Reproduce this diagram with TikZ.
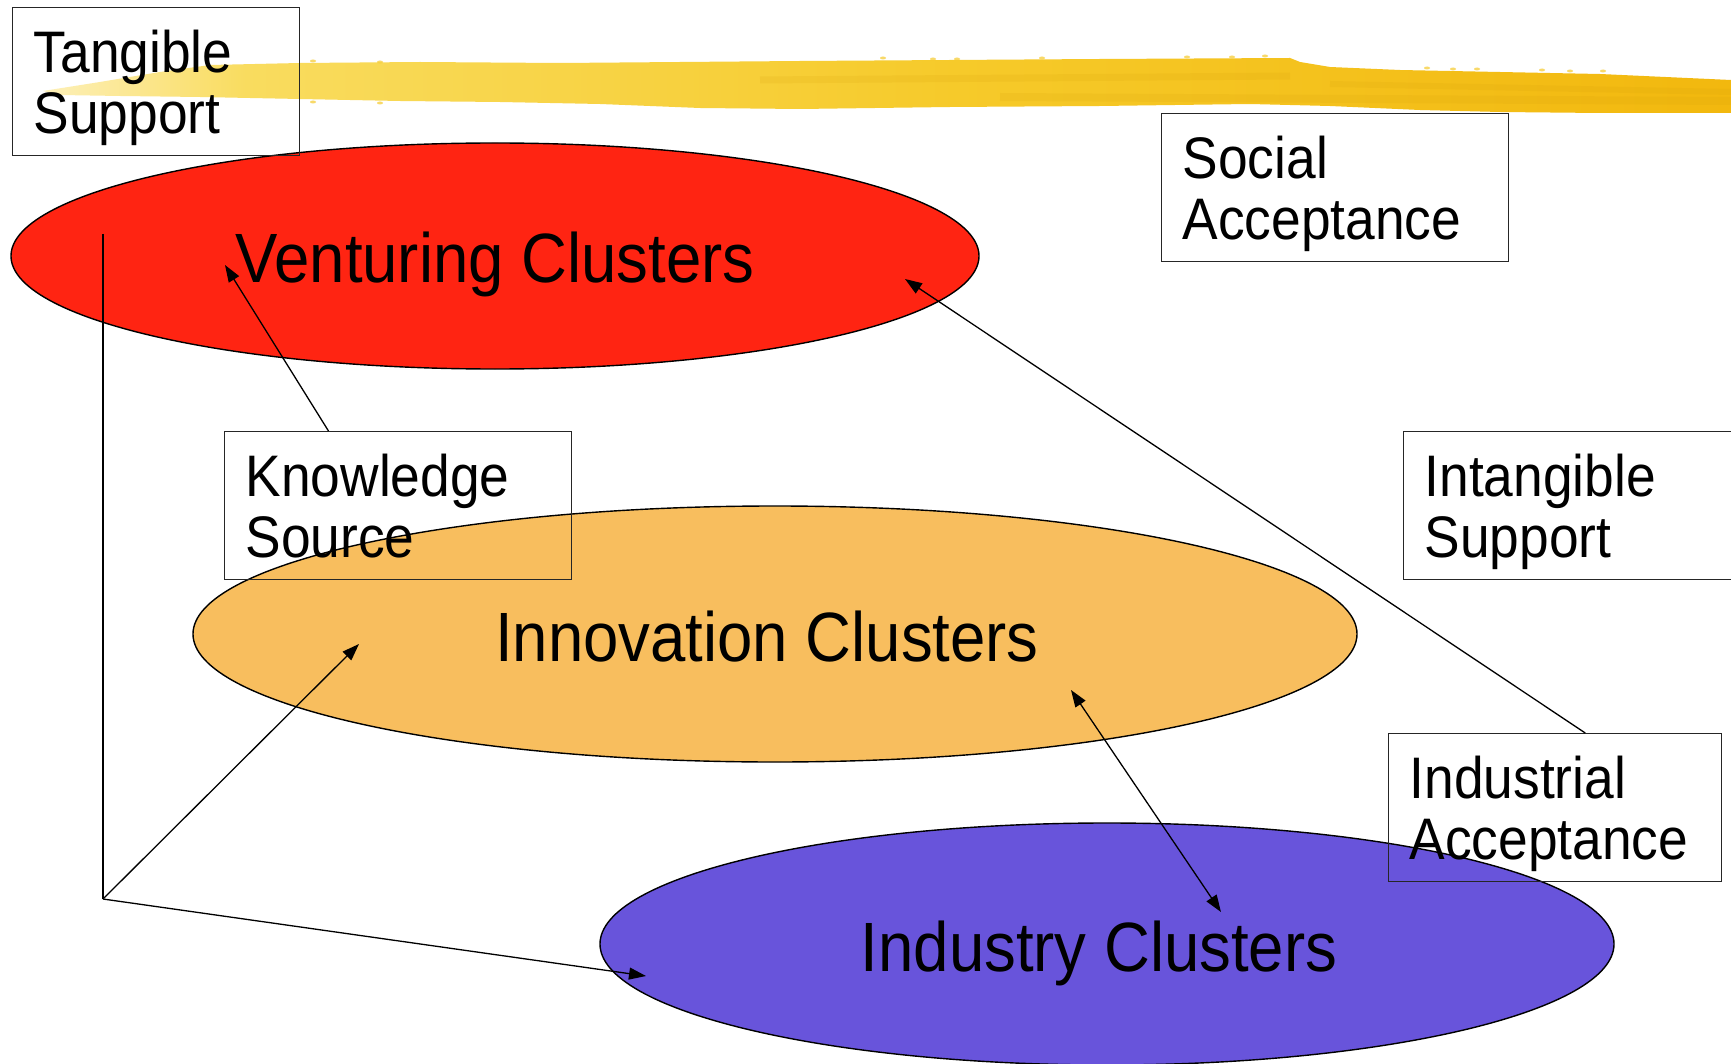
\documentclass[tikz,border=0pt]{standalone}
\usepackage{fontspec}
\setmainfont{Liberation Sans}[FakeStretch=0.91]
\usepackage{tikz}
\usetikzlibrary{shapes.geometric, arrows.meta, positioning, calc}
\definecolor{ventred}{RGB}{255, 36, 18}
\definecolor{innoorange}{RGB}{248, 190, 94}
\definecolor{induviolet}{RGB}{104, 84, 219}
\definecolor{brushpale}{RGB}{253, 240, 185}
\definecolor{brushlight}{RGB}{249, 220, 95}
\definecolor{brushmid}{RGB}{246, 202, 42}
\definecolor{brushgold}{RGB}{242, 184, 14}
\definecolor{brushdark}{RGB}{215, 160, 10}

% paint stroke colours, pale at the dry end (visible part is 25bp..75bp)
\pgfdeclarehorizontalshading{brushshade}{100bp}{color(0bp)=(brushpale); color(25bp)=(brushpale);
    color(31bp)=(brushlight); color(52bp)=(brushmid); color(75bp)=(brushgold); color(100bp)=(brushgold)}

\tikzset{
    cluster/.style={ellipse, draw=black, line width=1.4pt, inner sep=0pt,
        font=\fontsize{69.8}{72}\selectfont, text height=69pt, text depth=15pt},
    supportbox/.style={draw=black!85, line width=1.3pt, anchor=north west, align=left,
        inner xsep=21pt, inner ysep=0pt, text height=65pt, text depth=83pt,
        font=\fontsize{58.6}{61}\selectfont},
    link/.style={line width=1.3pt},
    arr/.style={link, -{Triangle[length=17pt,width=12pt]}},
    dblarr/.style={link, {Triangle[length=17pt,width=12pt]}-{Triangle[length=17pt,width=12pt]}}
}

\begin{document}
\begin{tikzpicture}[x=1pt, y=-1pt]
    \fill[white] (0,0) rectangle (1731,1064);
    \useasboundingbox (0,0) rectangle (1731,1064);

    % brush stroke along the top
    \shade[shading=brushshade]
        (43,91) -- (100,82) -- (160,72) -- (210,65) -- (300,63) -- (420,62) -- (560,63) -- (680,62)
        -- (800,61) -- (950,60) -- (1100,59) -- (1290,58) -- (1300,62) -- (1330,67) -- (1400,70)
        -- (1500,72) -- (1600,74) -- (1731,80)
        -- (1731,113) -- (1600,113) -- (1500,112) -- (1420,110) -- (1330,106) -- (1250,104)
        -- (1100,106) -- (950,107) -- (800,109) -- (700,108) -- (600,104) -- (500,102) -- (400,101)
        -- (300,99) -- (200,97) -- (120,96) -- (60,95) -- cycle;
    \draw[brushdark, line width=7pt, opacity=.15] (760,80) -- (1290,76);
    \draw[brushdark, line width=8pt, opacity=.15] (1000,97) -- (1731,101);
    \draw[brushdark, line width=6pt, opacity=.15] (1330,84) -- (1731,92);
    \foreach \sx/\sy in {313/61, 380/62, 883/58, 933/59, 957/59, 1042/58, 1187/57, 1232/57,
        1265/56, 1427/68, 1453/69, 1477/69, 1542/70, 1570/71, 1603/71, 313/102, 380/103}
        \fill[brushmid, opacity=.7] (\sx,\sy) ellipse (3pt and 1.5pt);

    % the three cluster levels
    \node[cluster, fill=ventred, minimum width=968pt, minimum height=226pt] (venturing) at (495,256) {Venturing Clusters};
    \node[cluster, fill=innoorange, minimum width=1164pt, minimum height=256pt] (innovation) at (775,634) {Innovation Clusters\hspace*{16pt}};
    \node[cluster, fill=induviolet, minimum width=1014pt, minimum height=242pt] (industry) at (1107,944) {Industry Clusters\hspace*{16pt}};

    % support / acceptance boxes
    \node[supportbox, text width=245pt] (tangible) at (12,7) {Tangible\\Support};
    \node[supportbox, text width=305pt] (social) at (1161,113) {Social\\Acceptance};
    \node[supportbox, text width=305pt] (knowledge) at (224,431) {Knowledge\\Source};
    \node[supportbox, text width=305pt] (intangible) at (1403,431) {Intangible\\Support};
    \node[supportbox, text width=291pt] (industrial) at (1388,733) {Industrial\\Acceptance};

    % connector ends
    \coordinate (vtop) at (103,234);
    \coordinate (hub) at (103,899);
    \coordinate (innoin) at (359,644);
    \coordinate (induin) at (646,976);
    \coordinate (ventin) at (225,265);
    \coordinate (ventright) at (905,279);
    \coordinate (innoright) at (1071,690);
    \coordinate (indutop) at (1221,912);

    \draw[link] (vtop) -- (hub);
    \draw[arr] (hub) -- (innoin);
    \draw[arr] (hub) -- (induin);
    \draw[arr] ($(knowledge.north west)!0.3!(knowledge.north east)$) -- (ventin);
    \draw[arr] ($(industrial.north west)!0.59!(industrial.north east)$) -- (ventright);
    \draw[dblarr] (innoright) -- (indutop);
\end{tikzpicture}
\end{document}
